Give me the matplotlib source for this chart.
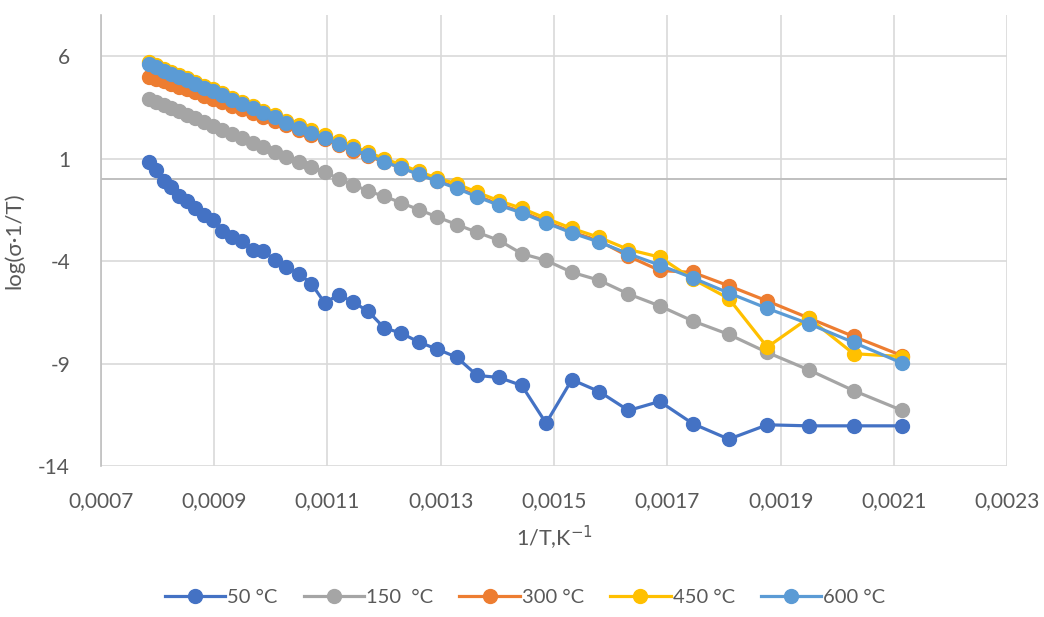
import matplotlib
matplotlib.use('Agg')
import matplotlib.pyplot as plt
import numpy as np

plt.rcParams['font.family'] = ['Lato', 'DejaVu Sans']

# temperatures of the measurements, K (x = 1/T)
temps_K = [1273, 1253, 1233, 1213, 1193, 1173, 1153, 1133, 1113, 1093, 1073,
           1053, 1033, 1013, 993, 973, 953, 933, 913, 893, 873, 853, 833, 813,
           793, 773, 753, 733, 713, 693, 673, 653, 633, 613, 593, 573, 553,
           533, 513, 493, 473]

s50 = [0.82, 0.46, -0.11, -0.38, -0.81, -1.08, -1.41, -1.77, -1.98, -2.55,
       -2.82, -3.04, -3.48, -3.53, -3.93, -4.29, -4.62, -5.10, -6.05, -5.64,
       -6.00, -6.46, -7.27, -7.51, -7.95, -8.30, -8.69, -9.58, -9.68, -10.07,
       -11.91, -9.79, -10.37, -11.29, -10.85, -11.94, -12.69, -11.99, -12.04,
       -12.04, -12.04]
s150 = [3.92, 3.77, 3.62, 3.47, 3.30, 3.14, 2.96, 2.78, 2.60, 2.41, 2.20,
        2.00, 1.78, 1.56, 1.33, 1.08, 0.83, 0.59, 0.34, 0.02, -0.27, -0.60,
        -0.84, -1.16, -1.49, -1.85, -2.22, -2.60, -2.99, -3.64, -3.97, -4.55,
        -4.94, -5.61, -6.19, -6.93, -7.58, -8.46, -9.31, -10.32, -11.29]
s300 = [4.99, 4.87, 4.76, 4.64, 4.50, 4.37, 4.22, 4.07, 3.92, 3.76, 3.58,
        3.41, 3.22, 3.03, 2.83, 2.61, 2.38, 2.16, 1.93, 1.66, 1.39, 1.12,
        0.82, 0.56, 0.24, -0.08, -0.41, -0.82, -1.23, -1.60, -2.09, -2.58,
        -3.02, -3.77, -4.46, -4.56, -5.21, -5.95, -6.78, -7.68, -8.62]
s450 = [5.71, 5.54, 5.39, 5.24, 5.07, 4.91, 4.73, 4.55, 4.37, 4.18, 3.97,
        3.77, 3.55, 3.33, 3.10, 2.85, 2.65, 2.41, 2.16, 1.87, 1.59, 1.30,
        0.99, 0.70, 0.37, 0.04, -0.23, -0.65, -1.06, -1.43, -1.92, -2.41,
        -2.85, -3.44, -3.81, -4.89, -5.83, -8.20, -6.78, -8.52, -8.66]
s600 = [5.59, 5.44, 5.29, 5.14, 4.97, 4.81, 4.63, 4.45, 4.27, 4.08, 3.87,
        3.67, 3.45, 3.23, 3.00, 2.75, 2.50, 2.26, 2.01, 1.72, 1.44, 1.15,
        0.84, 0.55, 0.22, -0.11, -0.45, -0.87, -1.28, -1.65, -2.14, -2.63,
        -3.08, -3.65, -4.20, -4.83, -5.56, -6.31, -7.06, -7.97, -8.98]

labels = ['50 °C', '150  °C', '300 °C', '450 °C', '600 °C']
colors = ['#4472C4', '#A5A5A5', '#ED7D31', '#FFC000', '#5B9BD5']

xticks = [0.0007, 0.0009, 0.0011, 0.0013, 0.0015, 0.0017, 0.0019, 0.0021, 0.0023]
yticks = [-14, -9, -4, 1, 6]

x = 1.0 / np.array(temps_K, dtype=float)

fig = plt.figure(figsize=(10.44, 6.17), dpi=100)
ax = fig.add_axes([0.0964, 0.2447, 0.8686, 0.731])

for ys, lab, c in zip([s50, s150, s300, s450, s600], labels, colors):
    ax.plot(x, ys, '-o', color=c, lw=2.3, ms=10, label=lab)

ax.set_xlim(0.0007, 0.0023)
ax.set_ylim(-14, 8)
ax.set_xticks(xticks)
ax.set_xticklabels([f'{t:.4f}'.replace('.', ',') for t in xticks])
ax.set_yticks(yticks)
ax.set_yticklabels([str(t) for t in yticks])
ax.tick_params(length=0, labelsize=15, labelcolor='#595959')
ax.tick_params(axis='x', pad=18)
ax.tick_params(axis='y', pad=22)

ax.grid(True, color='#D9D9D9', lw=1.2)
ax.set_axisbelow(True)
for side in ['top', 'right', 'bottom']:
    ax.spines[side].set_visible(False)
ax.spines['left'].set_color('#BFBFBF')
ax.spines['left'].set_linewidth(1.2)
ax.axhline(0, color='#BFBFBF', lw=1.4, zorder=1)

ax.set_xlabel('1/T,K$^{-1}$', fontsize=15.5, color='#595959', labelpad=9)
ax.set_ylabel('log(σ·1/T)', fontsize=16, color='#595959', labelpad=10)

fig.legend(loc='lower center', ncol=5, frameon=False, fontsize=14.5,
           bbox_to_anchor=(0.503, -0.012), handlelength=3.0, columnspacing=1.3,
           handletextpad=0.1, labelcolor='#595959')

fig.savefig('out.png', dpi=100)
